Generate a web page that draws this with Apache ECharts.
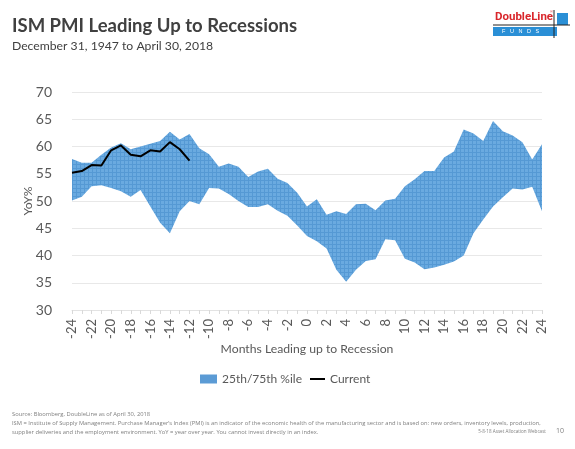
<!DOCTYPE html>
<html><head><meta charset="utf-8">
<script src="https://cdn.jsdelivr.net/npm/echarts@6/dist/echarts.min.js"></script>
<style>html,body{margin:0;padding:0;background:#fff}#c{width:575px;height:449px}</style>
</head><body><div id="c"></div>
<script>
var months = [-24,-23,-22,-21,-20,-19,-18,-17,-16,-15,-14,-13,-12,-11,-10,-9,-8,-7,-6,-5,-4,-3,-2,-1,0,1,2,3,4,5,6,7,8,9,10,11,12,13,14,15,16,17,18,19,20,21,22,23,24];
var pct75 = [57.7,57.0,57.0,58.5,59.8,60.6,59.5,60.0,60.5,61.0,62.7,61.3,62.3,59.7,58.6,56.3,56.9,56.3,54.4,55.4,55.9,54.1,53.3,51.5,49.0,50.3,47.5,48.1,47.6,49.4,49.5,48.3,50.1,50.4,52.7,54.0,55.5,55.5,58.0,59.1,63.1,62.4,61.0,64.7,62.8,62.0,60.8,57.6,60.4];
var pct25 = [50.1,50.8,52.7,52.9,52.4,51.8,50.8,52.0,49.0,46.0,44.1,48.1,50.0,49.4,52.4,52.3,51.3,50.0,48.9,48.9,49.4,48.2,47.3,45.5,43.6,42.6,41.3,37.4,35.2,37.4,39.0,39.3,43.0,42.8,39.4,38.7,37.5,37.8,38.3,38.9,40.0,44.1,46.6,49.0,50.7,52.3,52.1,52.6,48.1];
var current = [55.2,55.5,56.6,56.5,59.3,60.2,58.5,58.2,59.3,59.1,60.8,59.5,57.4];
var yTicks = [30,35,40,45,50,55,60,65,70];

var cats = months.map(String);
var bandWidth = pct75.map(function(v,i){return +(v - pct25[i]).toFixed(2);});

// hatch pattern for the band
var pc = document.createElement('canvas'); pc.width = 4; pc.height = 4;
var g = pc.getContext('2d');
g.fillStyle = '#6aaae0'; g.fillRect(0,0,4,4);
g.fillStyle = '#5599d4'; g.fillRect(0,0,4,1); g.fillRect(0,0,1,4);

var chart = echarts.init(document.getElementById('c'), null, {renderer:'canvas'});
var font = 'Lato, sans-serif';
var foot = 'Open Sans, sans-serif';
var grey = '#595959';
chart.setOption({
  animation:false,
  backgroundColor:'#fff',
  grid:{left:72,right:33,top:92,bottom:139,containLabel:false},
  legend:[
    {data:['25th/75th %ile'],left:195,top:368,itemWidth:17,itemHeight:9,itemGap:4,icon:'rect',
     textStyle:{fontFamily:font,fontSize:12,color:grey},itemStyle:{color:'#5b9bd5'}},
    {data:['Current'],left:305,top:368,itemWidth:15,itemHeight:2,itemGap:4,icon:'rect',
     textStyle:{fontFamily:font,fontSize:12,color:grey}}
  ],
  xAxis:{type:'category',data:cats,boundaryGap:false,
    name:'Months Leading up to Recession',nameLocation:'middle',nameGap:33,
    nameTextStyle:{fontFamily:font,fontSize:12.2,color:grey},
    axisLine:{show:true,lineStyle:{color:'#e3e3e3'}},
    axisTick:{show:true,interval:0,length:4,lineStyle:{color:'#d9d9d9'}},
    axisLabel:{interval:1,rotate:90,margin:9,fontFamily:font,fontSize:13,color:grey},
    splitLine:{show:false}},
  yAxis:{type:'value',min:yTicks[0],max:yTicks[yTicks.length-1],interval:5,
    name:'YoY%',nameLocation:'middle',nameGap:38,nameRotate:90,nameMoveOverlap:false,
    nameTextStyle:{fontFamily:font,fontSize:12.2,color:grey},
    axisLine:{show:false},axisTick:{show:false},
    axisLabel:{margin:20,fontFamily:font,fontSize:14,color:grey},
    splitLine:{lineStyle:{color:'#e8e8e8',width:1}}},
  series:[
    {name:'lower',type:'line',stack:'band',data:pct25,symbol:'none',silent:true,
     lineStyle:{opacity:0},itemStyle:{color:'transparent'},
     markLine:{silent:true,symbol:'none',label:{show:false},
       lineStyle:{color:'#808080',width:2,type:'solid'},
       data:[[{coord:['0',70.5]},{coord:['0',30]}]]}},
    {name:'25th/75th %ile',type:'line',stack:'band',data:bandWidth,symbol:'none',
     lineStyle:{opacity:0,width:0},itemStyle:{color:'#5b9bd5'},
     areaStyle:{color:{image:pc,repeat:'repeat'},opacity:1}},
    {name:'Current',type:'line',data:current,symbol:'none',
     lineStyle:{color:'#000',width:2},itemStyle:{color:'#000'},z:5}
  ],
  graphic:[
    {type:'text',left:12,top:17,style:{text:'ISM PMI Leading Up to Recessions',fontFamily:font,fontSize:18.5,fontWeight:'bold',fill:'#404040'}},
    {type:'text',left:12,top:40,style:{text:'December 31, 1947 to April 30, 2018',fontFamily:font,fontSize:12.2,fill:'#404040'}},
    // logo
    {type:'text',left:495,top:11,style:{text:'DoubleLine',fontFamily:'Roboto, sans-serif',fontSize:11.5,fontWeight:'bold',fill:'#d9262b'}},
    {type:'text',left:550,top:10,style:{text:'®',fontFamily:'sans-serif',fontSize:4,fill:'#d9262b'}},
    {type:'rect',shape:{x:493,y:27,width:64,height:9},style:{fill:'#2a8fd6'}},
    {type:'rect',shape:{x:557,y:13,width:11,height:12},style:{fill:'#2a8fd6'}},
    {type:'text',left:502,top:28,style:{text:'F   U   N   D   S',fontFamily:'sans-serif',fontSize:5.5,fill:'#ffffff'}},
    {type:'line',shape:{x1:554,y1:10,x2:554,y2:38},style:{stroke:'#222',lineWidth:1}},
    {type:'line',shape:{x1:493,y1:25,x2:570,y2:25},style:{stroke:'#222',lineWidth:1}},
    // footer
    {type:'text',left:12,top:411,style:{text:'Source: Bloomberg, DoubleLine as of April 30, 2018',fontFamily:foot,fontSize:5.8,fill:'#7f7f7f'}},
    {type:'text',left:12,top:420,style:{text:'ISM = Institute of Supply Management. Purchase Manager\u2019s Index (PMI) is an indicator of the economic health of the manufacturing sector and is based on: new orders, inventory levels, production,',fontFamily:foot,fontSize:5.8,fill:'#7f7f7f'}},
    {type:'text',left:12,top:429,style:{text:'supplier deliveries and the employment environment. YoY = year over year. You cannot invest directly in an index.',fontFamily:foot,fontSize:5.8,fill:'#7f7f7f'}},
    {type:'text',right:29,top:429.5,style:{text:'5-8-18 Asset Allocation Webcast',fontFamily:foot,fontSize:4.6,fill:'#7f7f7f'}},
    {type:'text',left:556,top:427,style:{text:'10',fontFamily:foot,fontSize:7,fill:'#7f7f7f'}}
  ]
});
</script></body></html>
